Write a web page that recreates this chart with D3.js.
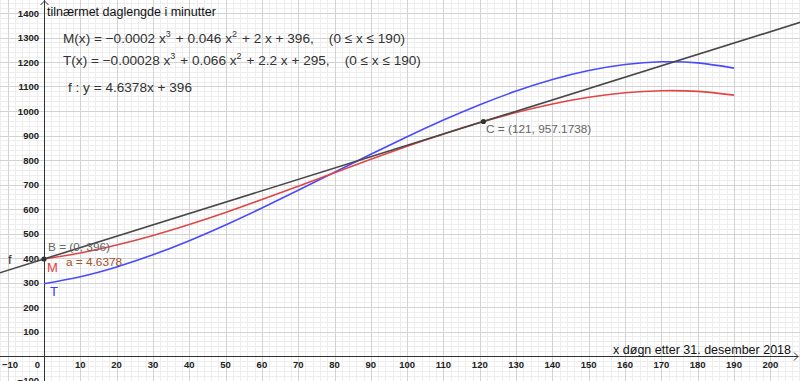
<!DOCTYPE html>
<html><head><meta charset="utf-8">
<script src="https://cdn.jsdelivr.net/npm/d3@7"></script>
<style>
html,body{margin:0;padding:0;background:#fff;}
svg{display:block;font-family:"Liberation Sans",Arial,sans-serif;}
</style></head>
<body>
<svg id="chart" width="800" height="381"></svg>
<script>
// ---- data ----
const xSamples = [0,10,20,30,40,50,60,70,80,90,100,110,120,130,140,150,160,170,180,190];
const mValues = [396,420.4,452.8,492.0,536.8,586.0,638.4,692.8,748.0,802.8,856.0,906.4,952.8,994.0,1028.8,1056.0,1074.4,1082.8,1080.0,1064.8];
const tValues = [295,323.32,363.16,412.84,470.68,535.0,604.12,676.36,750.04,823.48,895.0,962.92,1025.56,1081.24,1128.28,1165.0,1189.72,1200.76,1196.44,1175.08];
const lineX = [-15, 212];
const lineY = [326.43, 1379.21];
const pointB = [0, 396];
const pointC = [121, 957.1738];
const xTickLabels = [-10,0,10,20,30,40,50,60,70,80,90,100,110,120,130,140,150,160,170,180,190,200];
const yTickLabels = [-100,100,200,300,400,500,600,700,800,900,1000,1100,1200,1300,1400];

const W = 800, H = 381;
const svg = d3.select("#chart");
const x = d3.scaleLinear().domain([0,190]).range([44,734]);
const y = d3.scaleLinear().domain([0,1000]).range([356,111]);
const [xmin,xmax] = [x.invert(0), x.invert(W)];
const [ymin,ymax] = [y.invert(H), y.invert(0)];

// grid
const gGrid = svg.append("g").attr("shape-rendering","crispEdges");
for (let v = Math.ceil(xmin/2)*2; v <= xmax; v += 2) {
  gGrid.append("line").attr("x1",Math.round(x(v))+0.5).attr("x2",Math.round(x(v))+0.5)
    .attr("y1",0).attr("y2",H).attr("stroke","#eeeeee");
}
for (let v = Math.ceil(ymin/20)*20; v <= ymax; v += 20) {
  gGrid.append("line").attr("y1",Math.round(y(v))+0.5).attr("y2",Math.round(y(v))+0.5)
    .attr("x1",0).attr("x2",W).attr("stroke","#eeeeee");
}
for (let v = Math.ceil(xmin/10)*10; v <= xmax; v += 10) {
  gGrid.append("line").attr("x1",Math.round(x(v))+0.5).attr("x2",Math.round(x(v))+0.5)
    .attr("y1",0).attr("y2",H).attr("stroke","#d3d3d3");
}
for (let v = Math.ceil(ymin/100)*100; v <= ymax; v += 100) {
  gGrid.append("line").attr("y1",Math.round(y(v))+0.5).attr("y2",Math.round(y(v))+0.5)
    .attr("x1",0).attr("x2",W).attr("stroke","#d3d3d3");
}

// axes
const ax = svg.append("g").attr("stroke","#333").attr("fill","none");
const x0 = Math.round(x(0))+0.5, y0 = Math.round(y(0))+0.5;
ax.append("line").attr("x1",x0).attr("x2",x0).attr("y1",0).attr("y2",H).attr("shape-rendering","crispEdges");
ax.append("line").attr("x1",0).attr("x2",W-2).attr("y1",y0).attr("y2",y0).attr("shape-rendering","crispEdges");
ax.append("path").attr("d",`M${x0-4},${5} L${x0},${1} L${x0+4},${5}`);
ax.append("path").attr("d",`M${W-6},${y0-4} L${W-2},${y0} L${W-6},${y0+4}`);

// tick labels
const tl = svg.append("g").attr("font-size",9.5).attr("fill","#222").attr("font-weight","bold");
xTickLabels.forEach(v => {
  const t = tl.append("text").attr("y", y(0)+12)
    .text(v < 0 ? "\u2212" + Math.abs(v) : v);
  if (v === 0) t.attr("x", x(0)-4).attr("text-anchor","end");
  else if (x(v) < 12) t.attr("x", 2).attr("text-anchor","start");
  else t.attr("x", x(v)).attr("text-anchor","middle");
});
yTickLabels.forEach(v => {
  tl.append("text").attr("x", x(0)-5).attr("y", y(v)+3.5).attr("text-anchor","end")
    .text(v < 0 ? "\u2212" + Math.abs(v) : v);
});

// axis titles
svg.append("text").attr("x",47).attr("y",16).attr("font-size",12.5).attr("fill","#111")
  .text("tilnærmet daglengde i minutter");
svg.append("text").attr("x",791).attr("y",354).attr("font-size",12.5).attr("fill","#111")
  .attr("text-anchor","end").text("x døgn etter 31. desember 2018");

// curves
svg.append("defs").append("clipPath").attr("id","clip")
  .append("rect").attr("x",0).attr("y",0).attr("width",W).attr("height",H);
const plot = svg.append("g").attr("clip-path","url(#clip)");
const gen = d3.line().x(d => x(d[0])).y(d => y(d[1])).curve(d3.curveNatural);
plot.append("path").datum(d3.zip(xSamples, tValues)).attr("d", gen)
  .attr("fill","none").attr("stroke","#4a4aff").attr("stroke-width",1.6);
plot.append("path").datum(d3.zip(xSamples, mValues)).attr("d", gen)
  .attr("fill","none").attr("stroke","#e04646").attr("stroke-width",1.6);
plot.append("path").datum(d3.zip(lineX, lineY)).attr("d", d3.line().x(d=>x(d[0])).y(d=>y(d[1])))
  .attr("fill","none").attr("stroke","#484848").attr("stroke-width",1.6);

// points
[pointB, pointC].forEach(p => {
  plot.append("circle").attr("cx",x(p[0])).attr("cy",y(p[1])).attr("r",2.6).attr("fill","#333");
});

// labels
const lab = svg.append("g").attr("font-size",11.8);
lab.append("text").attr("x",48).attr("y",251).attr("fill","#666").text("B = (0, 396)");
lab.append("text").attr("x",66).attr("y",266).attr("fill","#a0522d").text("a = 4.6378");
lab.append("text").attr("x",47).attr("y",272).attr("font-size",13).attr("fill","#e03c3c").text("M");
lab.append("text").attr("x",50).attr("y",296).attr("font-size",13).attr("fill","#3a3aff").text("T");
lab.append("text").attr("x",8).attr("y",264).attr("font-size",13).attr("fill","#333").text("f");
lab.append("text").attr("x",486).attr("y",133).attr("fill","#666").text("C = (121, 957.1738)");

// formulas
const fg = svg.append("g").attr("font-size",13.6).attr("fill","#333");
function formula(xp, yp, parts) {
  const t = fg.append("text").attr("x",xp).attr("y",yp).attr("xml:space","preserve");
  parts.forEach(p => {
    if (typeof p === "object") {
      t.append("tspan").attr("dy",-6).attr("font-size",9).text(p.sup);
      t.append("tspan").attr("dy",6).text("\u200A");
    } else t.append("tspan").text(p);
  });
  return t;
}
formula(63, 43, ["M(x) = \u22120.0002 x", {sup:"3"}, " + 0.046 x", {sup:"2"}, " + 2 x + 396,    (0 \u2264 x \u2264 190)"]);
formula(63, 65, ["T(x) = \u22120.00028 x", {sup:"3"}, " + 0.066 x", {sup:"2"}, " + 2.2 x + 295,    (0 \u2264 x \u2264 190)"]);
fg.append("text").attr("x",68).attr("y",92).attr("font-size",13.6).text("f : y = 4.6378x + 396");
</script>
</body></html>
